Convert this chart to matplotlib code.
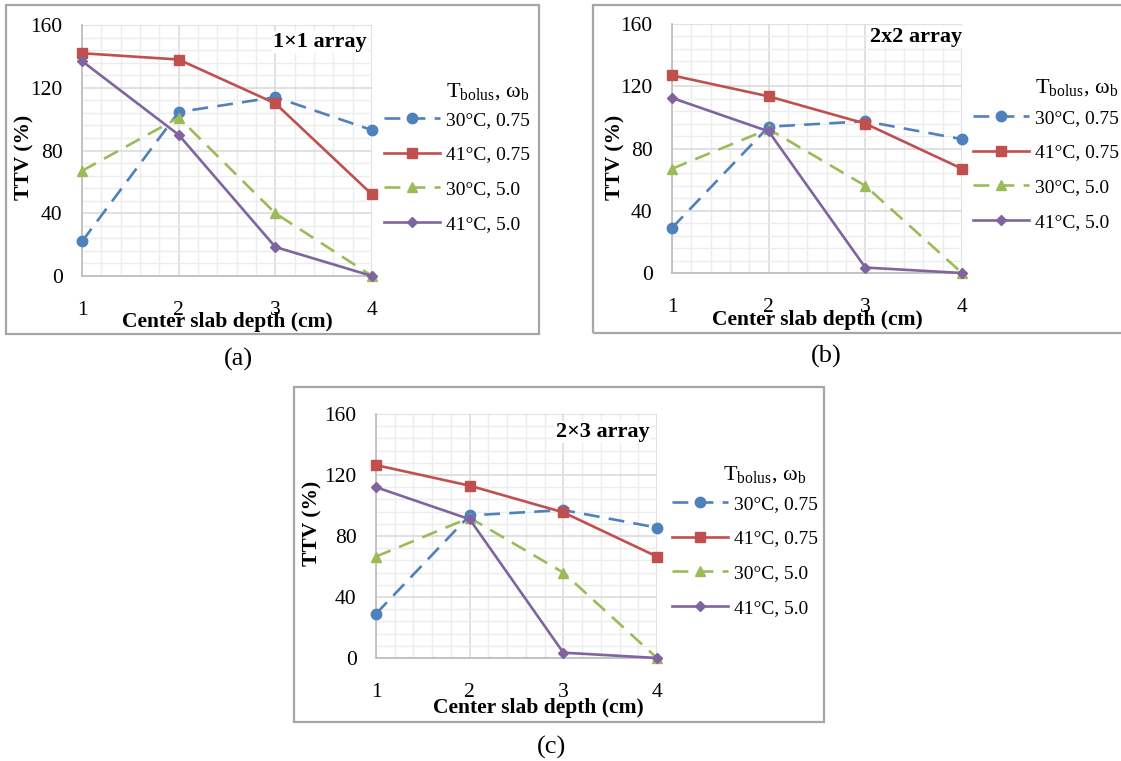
import numpy as np
import matplotlib
matplotlib.use('Agg')
import matplotlib.pyplot as plt
from matplotlib.patches import Rectangle
from matplotlib.ticker import MultipleLocator

plt.rcParams['font.family'] = ['Liberation Serif', 'DejaVu Serif']
plt.rcParams['mathtext.fontset'] = 'custom'
plt.rcParams['mathtext.rm'] = 'Liberation Serif'

# data
depth = [1, 2, 3, 4]
series_labels = ['30°C, 0.75', '41°C, 0.75', '30°C, 5.0', '41°C, 5.0']

a_30_075 = [22, 104.5, 114, 93]
a_41_075 = [142, 138, 110, 52]
a_30_50 = [67, 101, 40, 0]
a_41_50 = [137, 90, 18.5, 0]

b_30_075 = [29, 94, 97.5, 86]
b_41_075 = [127, 113.5, 96, 67]
b_30_50 = [67, 92.5, 56, 0]
b_41_50 = [112.5, 91, 3.5, 0]

c_30_075 = [29, 93.5, 97, 85.5]
c_41_075 = [126.5, 113, 95.5, 66.5]
c_30_50 = [66.5, 92, 56, 0]
c_41_50 = [112, 91, 3.5, 0]

panel_titles = ['1×1 array', '2x2 array', '2×3 array']
captions = ['(a)', '(b)', '(c)']
legend_title = r'T$_{\mathregular{bolus}}$, ω$_{\mathregular{b}}$'

colors = ['#4f81bd', '#c0504d', '#9bbb59', '#8064a2']
markers = ['o', 's', '^', 'D']
msizes = [7.5, 7.5, 7.5, 5]
dashed = [True, False, True, False]

W, H = 1121, 761
fig = plt.figure(figsize=(W / 100, H / 100), dpi=100)


def fx(px):
    return px / W


def fy(py):
    return 1 - py / H


# panel frames (pixels): left, top, right, bottom
frames = [(6, 5, 539, 334), (593, 5, 1126, 333), (294, 387, 824, 722)]
for l, t, r, b in frames:
    fig.patches.append(Rectangle((fx(l), fy(b)), fx(r - l), (b - t) / H,
                                 transform=fig.transFigure, fill=False,
                                 edgecolor='#a6a6a6', linewidth=1.6))

# axes areas (pixels): left, top, right, bottom
axes_px = [(82, 25, 372, 276), (672, 24, 962, 273), (376, 414, 657, 658)]
legend_px = [(384, 111), (973, 109), (672, 495)]
legtitle_px = [(529, 92), (1118, 88), (806, 475)]
title_pos = [(0.983, 0.932), (1.0, 0.948), (0.975, 0.926)]
ylabel_pos = [(-0.165, 0.474), (-0.162, 0.466), (-0.189, 0.553)]
xlabel_pos = [(0.5, -0.143), (0.5, -0.149), (0.578, -0.164)]
caption_px = [(238, 359), (826, 356), (552, 747)]

data = [
    [a_30_075, a_41_075, a_30_50, a_41_50],
    [b_30_075, b_41_075, b_30_50, b_41_50],
    [c_30_075, c_41_075, c_30_50, c_41_50],
]

for k in range(3):
    l, t, r, b = axes_px[k]
    ax = fig.add_axes([fx(l), fy(b), fx(r - l), (b - t) / H])
    ax.set_xlim(1, 4)
    ax.set_ylim(0, 160)
    ax.xaxis.set_major_locator(MultipleLocator(1))
    ax.xaxis.set_minor_locator(MultipleLocator(0.2))
    ax.yaxis.set_major_locator(MultipleLocator(40))
    ax.yaxis.set_minor_locator(MultipleLocator(8))
    ax.grid(which='major', color='#d9d9d9', linewidth=1.1)
    ax.grid(which='minor', color='#ececec', linewidth=1.0)
    ax.set_axisbelow(True)
    for s in ['top', 'right']:
        ax.spines[s].set_visible(False)
    for s in ['left', 'bottom']:
        ax.spines[s].set_color('#bfbfbf')
        ax.spines[s].set_linewidth(1.3)
    ax.tick_params(which='both', length=0, labelsize=15.5)
    ax.tick_params(axis='x', pad=18)
    ax.tick_params(axis='y', pad=14)

    for i, ys in enumerate(data[k]):
        line, = ax.plot(depth, ys, color=colors[i], linewidth=1.9,
                        marker=markers[i], markersize=msizes[i],
                        markeredgecolor=colors[i], label=series_labels[i],
                        clip_on=False, zorder=3)
        if dashed[i]:
            line.set_dashes((6, 3.5))

    ax.text(title_pos[k][0], title_pos[k][1], panel_titles[k],
            transform=ax.transAxes, ha='right', va='center',
            fontsize=16, fontweight='bold',
            bbox=dict(facecolor='white', edgecolor='none', pad=1))

    ax.set_ylabel('TTV (%)', fontsize=15.5, fontweight='bold')
    ax.yaxis.set_label_coords(*ylabel_pos[k])
    ax.set_xlabel('Center slab depth (cm)', fontsize=15.5, fontweight='bold')
    ax.xaxis.set_label_coords(*xlabel_pos[k])

    lx, ly = legend_px[k]
    ax.legend(loc='upper left', bbox_to_anchor=(fx(lx), fy(ly)),
              bbox_transform=fig.transFigure, frameon=False,
              borderpad=0, borderaxespad=0, fontsize=14,
              handlelength=2.9, handletextpad=0.3, labelspacing=0.88)

    tx, ty = legtitle_px[k]
    fig.text(fx(tx), fy(ty), legend_title, ha='right', va='center', fontsize=16)

    cx, cy = caption_px[k]
    fig.text(fx(cx), fy(cy), captions[k], ha='center', va='center', fontsize=19)

fig.savefig('out.png', dpi=100)
